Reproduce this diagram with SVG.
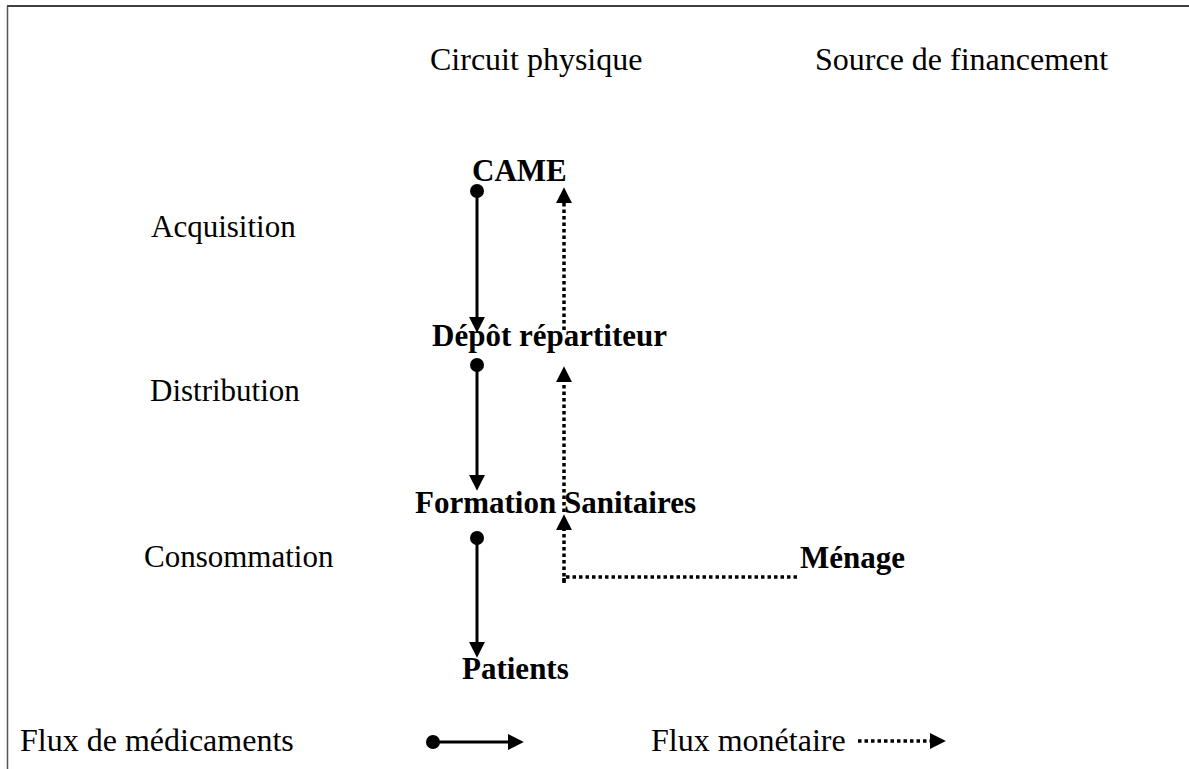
<svg xmlns="http://www.w3.org/2000/svg" width="1189" height="769" viewBox="0 0 1189 769">
<defs>
<style>
text{font-family:"Liberation Serif","Times New Roman",serif;font-size:31px;fill:#000}
.h{font-size:32px}
.lg{font-size:32px}
.b{font-weight:bold}
.solid{stroke:#000;stroke-width:3;fill:none}
.dot{stroke:#000;stroke-width:3.5;fill:none;stroke-dasharray:3.5 3}
</style>
<marker id="ah" markerUnits="userSpaceOnUse" markerWidth="16" markerHeight="16" viewBox="0 0 14 14" refX="8" refY="7" orient="auto">
<path d="M0,0 L14,7 L0,14 z" fill="#000"/>
</marker>
</defs>
<rect width="1189" height="769" fill="#fff"/>
<line x1="7" y1="6" x2="1189" y2="6" stroke="#000" stroke-width="1.5"/>
<line x1="7.5" y1="6" x2="7.5" y2="769" stroke="#555" stroke-width="1.5"/>

<g id="headers">
<text class="h" x="430" y="70">Circuit physique</text>
<text class="h" x="815" y="70">Source de financement</text>
</g>
<g id="stages">
<text x="151" y="237">Acquisition</text>
<text x="150" y="401">Distribution</text>
<text x="144" y="567">Consommation</text>
</g>
<g id="came"><text class="b" x="472" y="181">CAME</text></g>
<g id="depot"><text class="b" x="432" y="346">Dépôt répartiteur</text></g>
<g id="formation"><text class="b" x="415" y="513">Formation Sanitaires</text></g>
<g id="menage"><text class="b" x="800" y="568">Ménage</text></g>
<g id="patients"><text class="b" x="462" y="679">Patients</text></g>

<g id="connectors">
<circle cx="477" cy="191" r="7"/>
<line class="solid" x1="477" y1="191" x2="477" y2="326" marker-end="url(#ah)"/>
<circle cx="477" cy="365" r="7"/>
<line class="solid" x1="477" y1="365" x2="477" y2="484" marker-end="url(#ah)"/>
<circle cx="477" cy="538" r="7"/>
<line class="solid" x1="477" y1="538" x2="477" y2="651" marker-end="url(#ah)"/>

<line class="dot" x1="564" y1="330" x2="564" y2="194" marker-end="url(#ah)"/>
<line class="dot" x1="564" y1="512" x2="564" y2="373" marker-end="url(#ah)"/>
<polyline class="dot" points="797,577 564,577 564,583"/>
<line class="dot" x1="564" y1="583" x2="564" y2="521" marker-end="url(#ah)"/>
</g>

<g id="legend">
<text class="lg" x="20" y="751">Flux de médicaments</text>
<circle cx="433" cy="742" r="7"/>
<line class="solid" x1="433" y1="742" x2="517" y2="742" marker-end="url(#ah)"/>
<text class="lg" x="651" y="751">Flux monétaire</text>
<line class="dot" x1="858" y1="741" x2="939" y2="741" marker-end="url(#ah)"/>
</g>
</svg>
